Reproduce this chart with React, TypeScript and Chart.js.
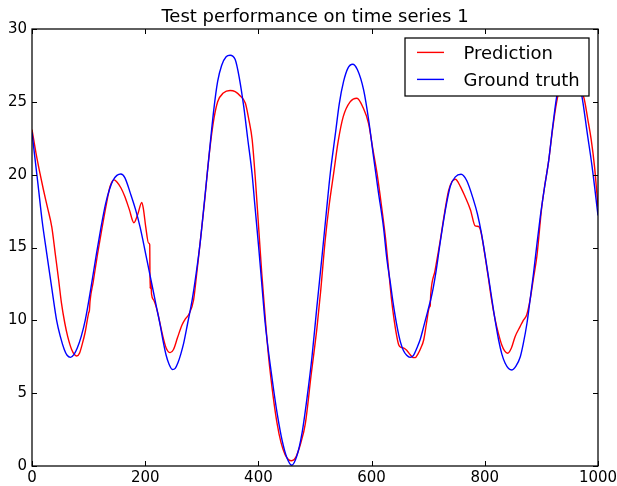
import React, { useEffect, useRef } from 'react';
import { Chart, registerables } from 'chart.js';

Chart.register(...registerables);

const TITLE = 'Test performance on time series 1';
const SERIES_NAMES = ['Prediction', 'Ground truth'];
const SERIES_COLORS = ['rgb(255,0,0)', 'rgb(0,0,255)'];
const X_TICKS = [0, 200, 400, 600, 800, 1000];
const Y_TICKS = [0, 5, 10, 15, 20, 25, 30];

const truthX = [0, 5, 11, 18, 26, 35, 43.5, 50, 57, 62, 68, 74, 80, 87, 94, 104, 114, 122, 130, 137, 143, 150, 157, 164, 174, 183, 191, 197, 203, 209, 215, 221, 227, 232, 237, 242, 248, 253, 258, 263, 268, 275, 283, 290, 297, 305, 312, 321, 328, 335, 343, 350, 359, 366, 374, 381, 388.7, 394, 400.4, 406, 412, 420, 427, 434, 441.7, 450, 459, 468, 477, 486, 494.7, 503, 512.4, 520, 527, 536, 543, 550.5, 558, 566.5, 575, 586, 595, 603.5, 612, 621, 627, 633, 638, 645, 651, 656, 662, 668, 674, 680, 686, 692, 699, 707, 714, 721, 730, 739, 748, 758, 768, 780, 787, 794, 802, 810, 817, 824.4, 830, 836, 842, 848, 855, 862.7, 868, 874.5, 880, 886, 892, 898, 905, 913, 920, 927, 937, 948, 960, 971.7, 981, 989.4, 1000];
const truthY = [22.9, 21.2, 19.2, 16.8, 14.6, 12.2, 10.0, 8.9, 8.0, 7.6, 7.46, 7.65, 8.1, 8.9, 10.0, 12.2, 14.6, 16.4, 18.0, 19.0, 19.6, 19.95, 20.05, 19.8, 18.7, 17.6, 16.4, 15.3, 14.15, 13.0, 11.86, 10.7, 9.57, 8.5, 7.6, 7.0, 6.62, 6.7, 7.1, 7.7, 8.43, 9.8, 11.4, 13.2, 15.3, 18.3, 21.0, 24.4, 26.4, 27.5, 28.1, 28.2, 27.9, 26.7, 24.7, 22.5, 20.1, 17.8, 15.06, 12.5, 9.8, 7.2, 5.2, 3.4, 1.79, 0.6, 0.05, 0.7, 2.24, 4.7, 7.5, 10.8, 14.4, 17.4, 20.1, 22.8, 24.9, 26.4, 27.3, 27.58, 27.2, 25.8, 23.7, 21.2, 18.8, 16.4, 14.2, 12.6, 11.2, 9.57, 8.5, 7.95, 7.6, 7.46, 7.6, 8.1, 8.7, 9.57, 10.6, 11.86, 13.4, 15.3, 17.5, 19.2, 19.85, 20.03, 19.6, 18.27, 17.3, 15.98, 14.1, 12.1, 10.3, 8.65, 7.7, 7.05, 6.7, 6.59, 6.85, 7.5, 8.4, 9.8, 11.4, 13.2, 15.2, 17.1, 19.0, 21.0, 23.3, 25.35, 27.2, 27.9, 27.3, 25.36, 22.85, 20.6, 17.2];

const predX = [0, 7, 14, 20, 27, 35, 41, 47, 52, 58, 63, 70, 75, 79, 84, 89, 94, 100, 101.5, 102.5, 108, 116, 124, 131.5, 138, 145, 150, 157, 164, 172, 180, 187, 194, 197, 201, 206, 208, 208.6, 210, 211.2, 215, 221, 230, 237, 244, 250, 257, 265, 271, 277, 285.5, 291, 297, 305, 312, 320, 328, 338, 350, 359, 368, 377, 383, 389, 395, 400.4, 406, 412, 418, 426, 433, 440, 447, 453, 459, 466, 475, 483, 493, 503.5, 510, 518, 525, 533, 541, 550, 562, 574, 585, 594.7, 602, 609.5, 617, 625, 630, 635, 639, 644, 648, 652, 657, 662, 668, 673, 677, 682, 687, 692, 697, 702, 703.5, 704.5, 712, 721, 729, 736, 742, 748, 756.7, 765, 774.7, 783, 789, 793, 800.5, 806, 812, 818, 824, 830, 835, 840.5, 847, 853.5, 862.3, 868, 874, 880, 886, 892, 900.7, 905, 913, 920, 927, 935, 952, 965, 975, 982, 988, 994, 1000];
const predY = [23.1, 21.5, 20.1, 19.0, 17.8, 16.4, 14.6, 12.8, 11.2, 9.8, 8.9, 8.0, 7.65, 7.55, 7.75, 8.4, 9.2, 10.5, 10.7, 11.3, 12.6, 14.6, 16.4, 18.0, 19.2, 19.64, 19.5, 19.1, 18.5, 17.6, 16.7, 17.3, 18.1, 17.6, 16.4, 15.3, 15.2, 12.2, 12.7, 11.8, 11.4, 10.7, 9.1, 8.1, 7.78, 8.0, 8.8, 9.68, 10.1, 10.4, 11.4, 13.2, 15.3, 18.2, 21.0, 23.5, 25.0, 25.6, 25.78, 25.7, 25.4, 24.9, 23.8, 22.4, 19.5, 16.4, 13.2, 10.2, 7.5, 4.8, 2.93, 1.6, 0.8, 0.45, 0.36, 0.6, 1.6, 2.93, 6.2, 9.5, 12.0, 15.5, 17.9, 20.1, 22.3, 24.0, 25.0, 25.25, 24.6, 23.5, 21.8, 20.1, 18.0, 15.5, 13.5, 11.5, 10.25, 9.0, 8.3, 8.15, 8.1, 7.95, 7.65, 7.45, 7.44, 7.7, 8.1, 8.65, 9.8, 10.9, 11.0, 11.8, 13.4, 15.4, 17.4, 18.9, 19.53, 19.69, 19.2, 18.5, 17.58, 16.48, 16.44, 16.1, 14.4, 13.0, 11.4, 10.1, 9.1, 8.3, 7.9, 7.74, 8.1, 8.88, 9.57, 10.0, 10.37, 11.4, 12.9, 14.4, 17.8, 19.0, 21.0, 23.2, 25.0, 26.2, 26.5, 25.9, 25.3, 23.8, 22.4, 20.5, 17.8];

const FONT = '"DejaVu Sans", "Liberation Sans", sans-serif';

const mplPlugin = {
  id: 'mplDecor',
  afterDatasetsDraw(chart: any) {
    const { ctx, chartArea: a, scales } = chart;
    const xs = scales.x;
    const ys = scales.y;
    ctx.save();
    ctx.strokeStyle = '#000';
    ctx.lineWidth = 1;
    const tl = 5;
    ctx.beginPath();
    X_TICKS.forEach((v) => {
      const px = Math.round(xs.getPixelForValue(v)) + 0.5;
      ctx.moveTo(px, a.bottom);
      ctx.lineTo(px, a.bottom - tl);
      ctx.moveTo(px, a.top);
      ctx.lineTo(px, a.top + tl);
    });
    Y_TICKS.forEach((v) => {
      const py = Math.round(ys.getPixelForValue(v)) + 0.5;
      ctx.moveTo(a.left, py);
      ctx.lineTo(a.left + tl, py);
      ctx.moveTo(a.right, py);
      ctx.lineTo(a.right - tl, py);
    });
    ctx.stroke();
    ctx.lineWidth = 1.25;
    ctx.strokeRect(a.left, a.top, a.right - a.left, a.bottom - a.top);
    ctx.restore();
  },
  afterDraw(chart: any) {
    const { ctx, chartArea: a } = chart;
    ctx.save();
    ctx.fillStyle = '#000';
    ctx.font = '18px ' + FONT;
    ctx.textAlign = 'center';
    ctx.textBaseline = 'alphabetic';
    ctx.fillText(TITLE, (a.left + a.right) / 2, a.top - 7);
    const bx = a.right - 193;
    const by = a.top + 9;
    const bw = 184;
    const bh = 58;
    ctx.fillStyle = '#fff';
    ctx.fillRect(bx, by, bw, bh);
    ctx.strokeStyle = '#000';
    ctx.lineWidth = 1.25;
    ctx.strokeRect(bx, by, bw, bh);
    const rows = [14.4, 41.4];
    SERIES_NAMES.forEach((name, i) => {
      const ly = by + rows[i];
      ctx.strokeStyle = SERIES_COLORS[i];
      ctx.lineWidth = 1.4;
      ctx.beginPath();
      ctx.moveTo(bx + 12, ly);
      ctx.lineTo(bx + 39, ly);
      ctx.stroke();
      ctx.fillStyle = '#000';
      ctx.textAlign = 'left';
      ctx.textBaseline = 'alphabetic';
      ctx.font = '18px ' + FONT;
      ctx.fillText(name, bx + 58.5, ly + 6.6);
    });
    ctx.restore();
  },
};

export default function App() {
  const ref = useRef<HTMLCanvasElement | null>(null);
  useEffect(() => {
    if (!ref.current) return;
    const pred = predX.map((x, i) => ({ x, y: predY[i] }));
    const truth = truthX.map((x, i) => ({ x, y: truthY[i] }));
    const chart = new Chart(ref.current, {
      type: 'line',
      data: {
        datasets: [
          {
            label: SERIES_NAMES[0],
            data: pred,
            borderColor: SERIES_COLORS[0],
            borderWidth: 1.4,
            pointRadius: 0,
            cubicInterpolationMode: 'monotone',
            fill: false,
            order: 1,
          },
          {
            label: SERIES_NAMES[1],
            data: truth,
            borderColor: SERIES_COLORS[1],
            borderWidth: 1.4,
            pointRadius: 0,
            cubicInterpolationMode: 'monotone',
            fill: false,
            order: 0,
          },
        ],
      },
      options: {
        responsive: false,
        animation: false,
        events: [],
        layout: { padding: { top: 29, right: 19, left: 0, bottom: 0 } },
        plugins: {
          legend: { display: false },
          title: { display: false },
          tooltip: { enabled: false },
        },
        scales: {
          x: {
            type: 'linear',
            min: 0,
            max: 1000,
            grid: { display: false, drawTicks: false },
            border: { display: false },
            afterBuildTicks: (s: any) => {
              s.ticks = X_TICKS.map((v) => ({ value: v }));
            },
            afterFit: (s: any) => {
              s.height = 20;
              s.paddingLeft = 0;
              s.paddingRight = 0;
            },
            ticks: {
              padding: 3,
              maxRotation: 0,
              autoSkip: false,
              color: '#000',
              font: { family: FONT, size: 15 },
              callback: (v: any) => String(v),
            },
          },
          y: {
            type: 'linear',
            min: 0,
            max: 30,
            grid: { display: false, drawTicks: false },
            border: { display: false },
            afterBuildTicks: (s: any) => {
              s.ticks = Y_TICKS.map((v) => ({ value: v }));
            },
            afterFit: (s: any) => {
              s.width = 32;
              s.paddingTop = 0;
              s.paddingBottom = 0;
            },
            ticks: {
              padding: 5,
              autoSkip: false,
              color: '#000',
              font: { family: FONT, size: 15 },
              callback: (v: any) => String(v),
            },
          },
        },
      },
      plugins: [mplPlugin],
    });
    return () => chart.destroy();
  }, []);
  return (
    <div style={{ position: 'absolute', left: 0, top: 0, width: 617, height: 486, background: '#fff' }}>
      <canvas ref={ref} width={617} height={486} />
    </div>
  );
}
